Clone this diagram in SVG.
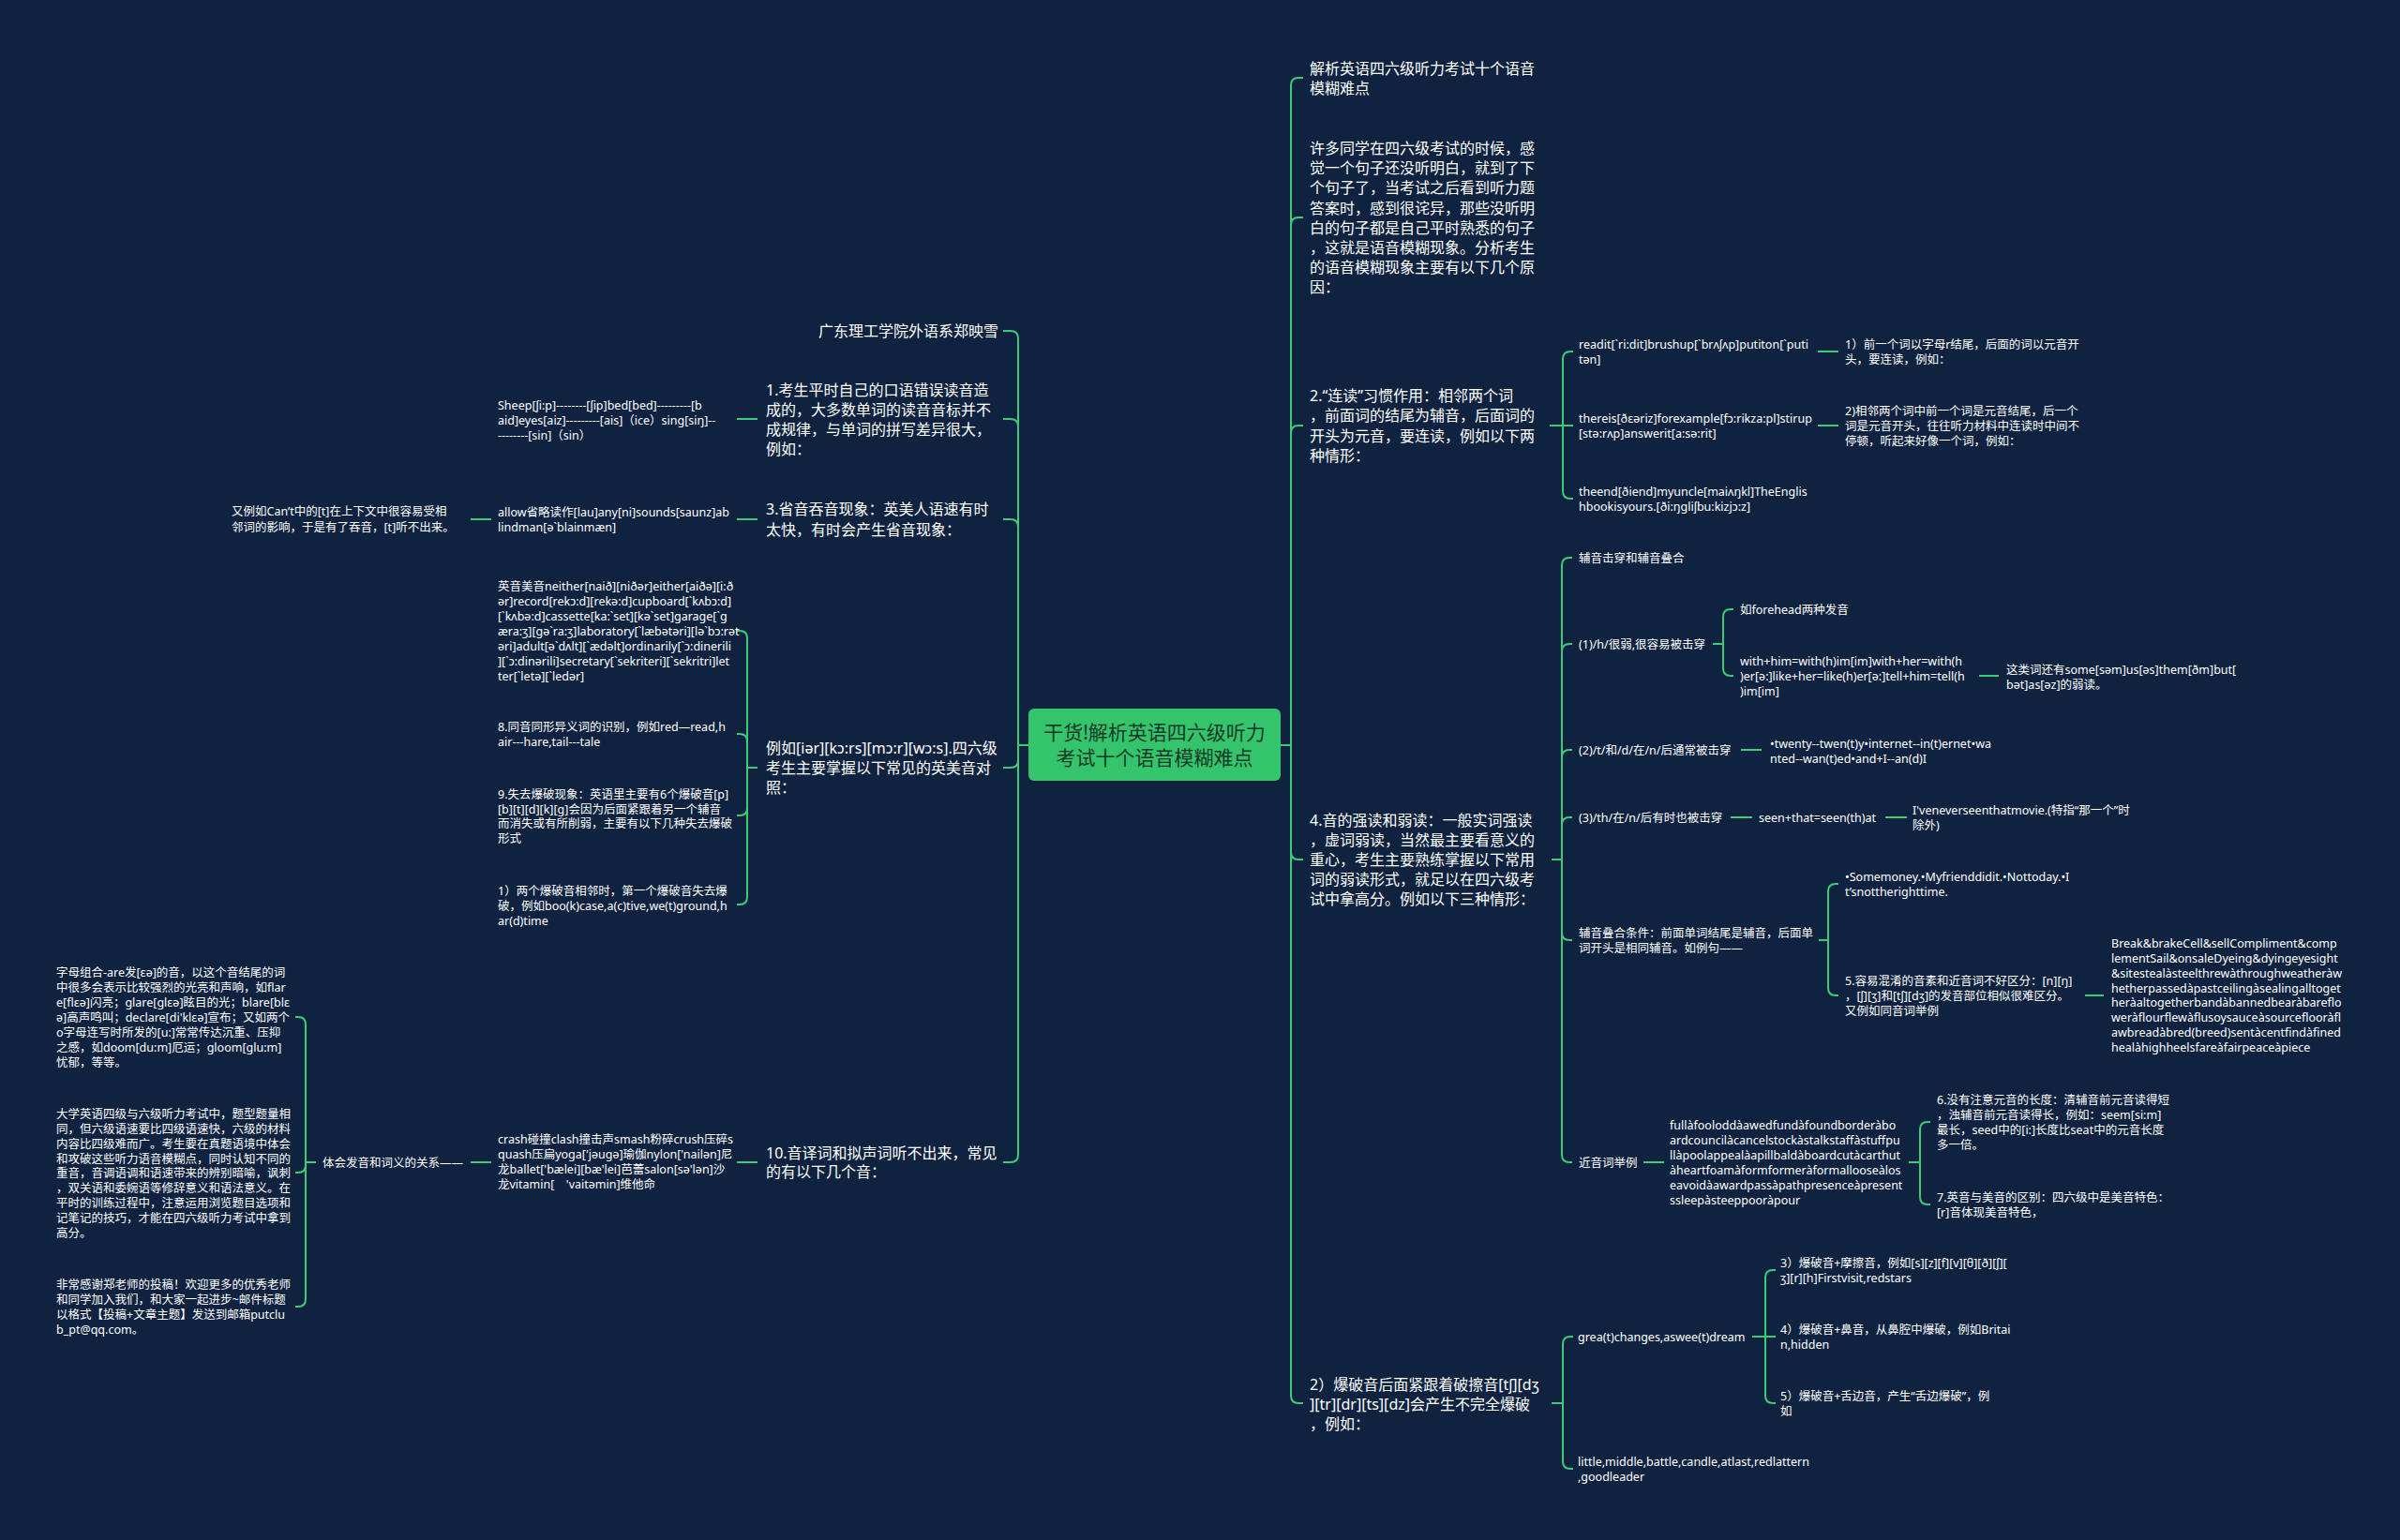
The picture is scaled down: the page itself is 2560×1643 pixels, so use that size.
<svg xmlns="http://www.w3.org/2000/svg" width="2560" height="1643" viewBox="0 0 2560 1643">
<style>
text{font-family:"Noto Sans","Noto Sans CJK SC",sans-serif;fill:#ffffff;dominant-baseline:central}
.t1{font-size:16px}
.t2{font-size:12.5px}
.root{font-size:21px;fill:#173a28;text-anchor:middle}
.c{fill:none;stroke:#3dcb78;stroke-width:2}
</style>
<rect width="2560" height="1643" fill="#0f2341"/>
<g id="connectors" class="c">
<path d="M1097 795H1086M1086 795V361Q1086 353 1078 353H1070M1086 795V455Q1086 447 1078 447H1070M1086 795V562Q1086 554 1078 554H1070M1086 795V811Q1086 819 1078 819H1070M1086 795V1232Q1086 1240 1078 1240H1070"/>
<path d="M1366 795H1377M1377 795V91Q1377 83 1385 83H1390M1377 795V240Q1377 232 1385 232H1390M1377 795V462Q1377 454 1385 454H1390M1377 795V909Q1377 917 1385 917H1390M1377 795V1489Q1377 1497 1385 1497H1390"/>
<path d="M808 447H786M808 554H786M524 554H502M808 1240H786M524 1240H502"/>
<path d="M808 819H797M797 819V681Q797 673 789 673H786M797 819V791Q797 783 789 783H786M797 819V862Q797 870 789 870H786M797 819V957Q797 965 789 965H786"/>
<path d="M337 1240H326M326 1240V1093Q326 1085 318 1085H315M326 1240V1243Q326 1251 318 1251H315M326 1240V1386Q326 1394 318 1394H315"/>
<path d="M1653 454H1667M1667 454V383Q1667 375 1675 375H1678M1667 454H1678M1667 454V524Q1667 532 1675 532H1678M1939 375H1961M1939 454H1961"/>
<path d="M1655 917H1666M1666 917V603Q1666 595 1674 595H1677M1666 917V695Q1666 687 1674 687H1677M1666 917V808Q1666 800 1674 800H1677M1666 917V880Q1666 872 1674 872H1677M1666 917V995Q1666 1003 1674 1003H1677M1666 917V1232Q1666 1240 1674 1240H1677"/>
<path d="M1827 687H1838M1838 687V658Q1838 650 1846 650H1849M1838 687V713Q1838 721 1846 721H1849M2111 721H2132M1857 800H1879M1846 872H1869M2011 872H2034"/>
<path d="M1940 1003H1950M1950 1003V951Q1950 943 1958 943H1961M1950 1003V1054Q1950 1062 1958 1062H1961M2224 1062H2244M1753 1240H1775"/>
<path d="M2036 1240H2048M2048 1240V1205Q2048 1197 2056 1197H2059M2048 1240V1277Q2048 1285 2056 1285H2059"/>
<path d="M1655 1497H1667M1667 1497V1434Q1667 1426 1675 1426H1678M1667 1497V1559Q1667 1567 1675 1567H1678M1869 1426H1883M1883 1426V1363Q1883 1355 1891 1355H1894M1883 1426H1894M1883 1426V1489Q1883 1497 1891 1497H1894"/>
</g>
<g id="root">
<rect x="1097" y="756" width="269" height="77" rx="6" fill="#33c46c"/>
<text class="root"><tspan x="1231.5" y="781">干货!解析英语四六级听力</tspan><tspan x="1231.5" y="808">考试十个语音模糊难点</tspan></text>
</g>
<g id="n-author"><text class="t1" x="1065" y="353" text-anchor="end">广东理工学院外语系郑映雪</text></g>
<g id="n-1"><text class="t1"><tspan x="817" y="416">1.考生平时自己的口语错误读音造</tspan><tspan x="817" y="437">成的，大多数单词的读音音标并不</tspan><tspan x="817" y="458">成规律，与单词的拼写差异很大，</tspan><tspan x="817" y="479">例如：</tspan></text></g>
<g id="n-1a"><text class="t2"><tspan x="531" y="432">Sheep[ʃi:p]--------[ʃip]bed[bed]---------[b</tspan><tspan x="531" y="448">aid]eyes[aiz]---------[ais]（ice）sing[siŋ]--</tspan><tspan x="531" y="464">--------[sin]（sin）</tspan></text></g>
<g id="n-3"><text class="t1"><tspan x="817" y="543">3.省音吞音现象：英美人语速有时</tspan><tspan x="817" y="565">太快，有时会产生省音现象：</tspan></text></g>
<g id="n-3a"><text class="t2"><tspan x="531" y="546">allow省略读作[lau]any[ni]sounds[saunz]ab</tspan><tspan x="531" y="562">lindman[ə`blainmæn]</tspan></text></g>
<g id="n-3b"><text class="t2"><tspan x="247" y="545">又例如Can’t中的[t]在上下文中很容易受相</tspan><tspan x="247" y="562">邻词的影响，于是有了吞音，[t]听不出来。</tspan></text></g>
<g id="n-eg"><text class="t1"><tspan x="817" y="798">例如[iər][kɔ:rs][mɔ:r][wɔ:s].四六级</tspan><tspan x="817" y="819">考生主要掌握以下常见的英美音对</tspan><tspan x="817" y="840">照：</tspan></text></g>
<g id="n-eg1"><text class="t2"><tspan x="531" y="625">英音美音neither[naið][niðər]either[aiðə][i:ð</tspan><tspan x="531" y="641">ər]record[rekɔ:d][rekə:d]cupboard[`kʌbɔ:d]</tspan><tspan x="531" y="657">[`kʌbə:d]cassette[ka:`set][kə`set]garage[`g</tspan><tspan x="531" y="673">æra:ʒ][gə`ra:ʒ]laboratory[`læbətəri][lə`bɔ:rət</tspan><tspan x="531" y="689">əri]adult[ə`dʌlt][`ædəlt]ordinarily[`ɔ:dinerili</tspan><tspan x="531" y="705">][`ɔ:dinərili]secretary[`sekriteri][`sekritri]let</tspan><tspan x="531" y="721">ter[`letə][`ledər]</tspan></text></g>
<g id="n-eg2"><text class="t2"><tspan x="531" y="775">8.同音同形异义词的识别，例如red—read,h</tspan><tspan x="531" y="791">air---hare,tail---tale</tspan></text></g>
<g id="n-eg3"><text class="t2"><tspan x="531" y="847">9.失去爆破现象：英语里主要有6个爆破音[p]</tspan><tspan x="531" y="863">[b][t][d][k][g]会因为后面紧跟着另一个辅音</tspan><tspan x="531" y="878">而消失或有所削弱，主要有以下几种失去爆破</tspan><tspan x="531" y="894">形式</tspan></text></g>
<g id="n-eg4"><text class="t2"><tspan x="531" y="950">1）两个爆破音相邻时，第一个爆破音失去爆</tspan><tspan x="531" y="966">破，例如boo(k)case,a(c)tive,we(t)ground,h</tspan><tspan x="531" y="982">ar(d)time</tspan></text></g>
<g id="n-10"><text class="t1"><tspan x="817" y="1230">10.音译词和拟声词听不出来，常见</tspan><tspan x="817" y="1250">的有以下几个音：</tspan></text></g>
<g id="n-10a"><text class="t2"><tspan x="531" y="1215">crash碰撞clash撞击声smash粉碎crush压碎s</tspan><tspan x="531" y="1231">quash压扁yoga['jəugə]瑜伽nylon['nailən]尼</tspan><tspan x="531" y="1247">龙ballet['bælei][bæ'lei]芭蕾salon[sə'lən]沙</tspan><tspan x="531" y="1263">龙vitamin[　'vaitəmin]维他命</tspan></text></g>
<g id="n-10b"><text class="t2" x="344" y="1240">体会发音和词义的关系——</text></g>
<g id="n-10b1"><text class="t2"><tspan x="60" y="1037">字母组合-are发[ɛə]的音，以这个音结尾的词</tspan><tspan x="60" y="1053">中很多会表示比较强烈的光亮和声响，如flar</tspan><tspan x="60" y="1069">e[flɛə]闪亮；glare[glɛə]眩目的光；blare[blɛ</tspan><tspan x="60" y="1085">ə]高声鸣叫；declare[di'klɛə]宣布；又如两个</tspan><tspan x="60" y="1101">o字母连写时所发的[u:]常常传达沉重、压抑</tspan><tspan x="60" y="1117">之感，如doom[du:m]厄运；gloom[glu:m]</tspan><tspan x="60" y="1133">忧郁，等等。</tspan></text></g>
<g id="n-10b2"><text class="t2"><tspan x="60" y="1188">大学英语四级与六级听力考试中，题型题量相</tspan><tspan x="60" y="1204">同，但六级语速要比四级语速快，六级的材料</tspan><tspan x="60" y="1220">内容比四级难而广。考生要在真题语境中体会</tspan><tspan x="60" y="1236">和攻破这些听力语音模糊点，同时认知不同的</tspan><tspan x="60" y="1251">重音，音调语调和语速带来的辨别暗喻，讽刺</tspan><tspan x="60" y="1267">，双关语和委婉语等修辞意义和语法意义。在</tspan><tspan x="60" y="1283">平时的训练过程中，注意运用浏览题目选项和</tspan><tspan x="60" y="1299">记笔记的技巧，才能在四六级听力考试中拿到</tspan><tspan x="60" y="1315">高分。</tspan></text></g>
<g id="n-10b3"><text class="t2"><tspan x="60" y="1370">非常感谢郑老师的投稿！欢迎更多的优秀老师</tspan><tspan x="60" y="1386">和同学加入我们，和大家一起进步~邮件标题</tspan><tspan x="60" y="1402">以格式【投稿+文章主题】发送到邮箱putclu</tspan><tspan x="60" y="1418">b_pt@qq.com。</tspan></text></g>
<g id="n-title"><text class="t1"><tspan x="1397" y="73">解析英语四六级听力考试十个语音</tspan><tspan x="1397" y="94">模糊难点</tspan></text></g>
<g id="n-intro"><text class="t1"><tspan x="1397" y="158">许多同学在四六级考试的时候，感</tspan><tspan x="1397" y="179">觉一个句子还没听明白，就到了下</tspan><tspan x="1397" y="200">个句子了，当考试之后看到听力题</tspan><tspan x="1397" y="222">答案时，感到很诧异，那些没听明</tspan><tspan x="1397" y="243">白的句子都是自己平时熟悉的句子</tspan><tspan x="1397" y="264">，这就是语音模糊现象。分析考生</tspan><tspan x="1397" y="285">的语音模糊现象主要有以下几个原</tspan><tspan x="1397" y="306">因：</tspan></text></g>
<g id="n-2"><text class="t1"><tspan x="1397" y="422">2.“连读”习惯作用：相邻两个词</tspan><tspan x="1397" y="443">，前面词的结尾为辅音，后面词的</tspan><tspan x="1397" y="465">开头为元音，要连读，例如以下两</tspan><tspan x="1397" y="486">种情形：</tspan></text></g>
<g id="n-2a"><text class="t2"><tspan x="1684" y="367">readit[`ri:dit]brushup[`brʌʃʌp]putiton[`puti</tspan><tspan x="1684" y="383">tən]</tspan></text></g>
<g id="n-2a1"><text class="t2"><tspan x="1968" y="367">1）前一个词以字母r结尾，后面的词以元音开</tspan><tspan x="1968" y="383">头，要连读，例如：</tspan></text></g>
<g id="n-2b"><text class="t2"><tspan x="1684" y="446">thereis[ðɛəriz]forexample[fɔ:rikza:pl]stirup</tspan><tspan x="1684" y="462">[stə:rʌp]answerit[a:sə:rit]</tspan></text></g>
<g id="n-2b1"><text class="t2"><tspan x="1968" y="438">2)相邻两个词中前一个词是元音结尾，后一个</tspan><tspan x="1968" y="454">词是元音开头，往往听力材料中连读时中间不</tspan><tspan x="1968" y="470">停顿，听起来好像一个词，例如：</tspan></text></g>
<g id="n-2c"><text class="t2"><tspan x="1684" y="524">theend[ðiend]myuncle[maiʌŋkl]TheEnglis</tspan><tspan x="1684" y="540">hbookisyours.[ði:ŋgliʃbu:kizjɔ:z]</tspan></text></g>
<g id="n-4"><text class="t1"><tspan x="1397" y="875">4.音的强读和弱读：一般实词强读</tspan><tspan x="1397" y="896">，虚词弱读，当然最主要看意义的</tspan><tspan x="1397" y="917">重心，考生主要熟练掌握以下常用</tspan><tspan x="1397" y="938">词的弱读形式，就足以在四六级考</tspan><tspan x="1397" y="959">试中拿高分。例如以下三种情形：</tspan></text></g>
<g id="n-4a"><text class="t2" x="1684" y="595">辅音击穿和辅音叠合</text></g>
<g id="n-4b"><text class="t2" x="1684" y="687">(1)/h/很弱,很容易被击穿</text></g>
<g id="n-4b1"><text class="t2" x="1856" y="650">如forehead两种发音</text></g>
<g id="n-4b2"><text class="t2"><tspan x="1856" y="705">with+him=with(h)im[im]with+her=with(h</tspan><tspan x="1856" y="721">)er[ə:]like+her=like(h)er[ə:]tell+him=tell(h</tspan><tspan x="1856" y="737">)im[im]</tspan></text></g>
<g id="n-4b3"><text class="t2"><tspan x="2140" y="714">这类词还有some[səm]us[əs]them[ðm]but[</tspan><tspan x="2140" y="730">bət]as[əz]的弱读。</tspan></text></g>
<g id="n-4c"><text class="t2" x="1684" y="800">(2)/t/和/d/在/n/后通常被击穿</text></g>
<g id="n-4c1"><text class="t2"><tspan x="1888" y="793">•twenty--twen(t)y•internet--in(t)ernet•wa</tspan><tspan x="1888" y="809">nted--wan(t)ed•and+I--an(d)I</tspan></text></g>
<g id="n-4d"><text class="t2" x="1684" y="872">(3)/th/在/n/后有时也被击穿</text></g>
<g id="n-4d1"><text class="t2" x="1876" y="872">seen+that=seen(th)at</text></g>
<g id="n-4d2"><text class="t2"><tspan x="2040" y="864">I'veneverseenthatmovie.(特指“那一个”时</tspan><tspan x="2040" y="880">除外)</tspan></text></g>
<g id="n-4e"><text class="t2"><tspan x="1684" y="995">辅音叠合条件：前面单词结尾是辅音，后面单</tspan><tspan x="1684" y="1011">词开头是相同辅音。如例句——</tspan></text></g>
<g id="n-4e1"><text class="t2"><tspan x="1968" y="935">•Somemoney.•Myfrienddidit.•Nottoday.•I</tspan><tspan x="1968" y="951">t’snottherighttime.</tspan></text></g>
<g id="n-4e2"><text class="t2"><tspan x="1968" y="1046">5.容易混淆的音素和近音词不好区分：[n][ŋ]</tspan><tspan x="1968" y="1062">，[ʃ][ʒ]和[tʃ][dʒ]的发音部位相似很难区分。</tspan><tspan x="1968" y="1078">又例如同音词举例</tspan></text></g>
<g id="n-4e3"><text class="t2"><tspan x="2252" y="1006">Break&amp;brakeCell&amp;sellCompliment&amp;comp</tspan><tspan x="2252" y="1022">lementSail&amp;onsaleDyeing&amp;dyingeyesight</tspan><tspan x="2252" y="1038">&amp;sitestealàsteelthrewàthroughweatheràw</tspan><tspan x="2252" y="1054">hetherpassedàpastceilingàsealingalltoget</tspan><tspan x="2252" y="1069">heràaltogetherbandàbannedbearàbareflo</tspan><tspan x="2252" y="1085">weràflourflewàflusoysauceàsourceflooràfl</tspan><tspan x="2252" y="1101">awbreadàbred(breed)sentàcentfindàfined</tspan><tspan x="2252" y="1117">healàhighheelsfareàfairpeaceàpiece</tspan></text></g>
<g id="n-4f"><text class="t2" x="1684" y="1240">近音词举例</text></g>
<g id="n-4f1"><text class="t2"><tspan x="1781" y="1200">fullàfooloddàawedfundàfoundborderàbo</tspan><tspan x="1781" y="1216">ardcouncilàcancelstockàstalkstaffàstuffpu</tspan><tspan x="1781" y="1232">llàpoolappealàapillbaldàboardcutàcarthut</tspan><tspan x="1781" y="1248">àheartfoamàformformeràformallooseàlos</tspan><tspan x="1781" y="1264">eavoidàawardpassàpathpresenceàpresent</tspan><tspan x="1781" y="1280">ssleepàsteeppooràpour</tspan></text></g>
<g id="n-4f2"><text class="t2"><tspan x="2066" y="1173">6.没有注意元音的长度：清辅音前元音读得短</tspan><tspan x="2066" y="1189">，浊辅音前元音读得长，例如：seem[si:m]</tspan><tspan x="2066" y="1205">最长，seed中的[i:]长度比seat中的元音长度</tspan><tspan x="2066" y="1221">多一倍。</tspan></text></g>
<g id="n-4f3"><text class="t2"><tspan x="2066" y="1277">7.英音与美音的区别：四六级中是美音特色：</tspan><tspan x="2066" y="1293">[r]音体现美音特色，</tspan></text></g>
<g id="n-2x"><text class="t1"><tspan x="1397" y="1477">2）爆破音后面紧跟着破擦音[tʃ][dʒ</tspan><tspan x="1397" y="1498">][tr][dr][ts][dz]会产生不完全爆破</tspan><tspan x="1397" y="1519">，例如：</tspan></text></g>
<g id="n-2xa"><text class="t2" x="1683" y="1426">grea(t)changes,aswee(t)dream</text></g>
<g id="n-2xa1"><text class="t2"><tspan x="1899" y="1347">3）爆破音+摩擦音，例如[s][z][f][v][θ][ð][ʃ][</tspan><tspan x="1899" y="1363">ʒ][r][h]Firstvisit,redstars</tspan></text></g>
<g id="n-2xa2"><text class="t2"><tspan x="1899" y="1418">4）爆破音+鼻音，从鼻腔中爆破，例如Britai</tspan><tspan x="1899" y="1434">n,hidden</tspan></text></g>
<g id="n-2xa3"><text class="t2"><tspan x="1899" y="1489">5）爆破音+舌边音，产生“舌边爆破”，例</tspan><tspan x="1899" y="1505">如</tspan></text></g>
<g id="n-2xb"><text class="t2"><tspan x="1683" y="1559">little,middle,battle,candle,atlast,redlattern</tspan><tspan x="1683" y="1575">,goodleader</tspan></text></g>
</svg>
